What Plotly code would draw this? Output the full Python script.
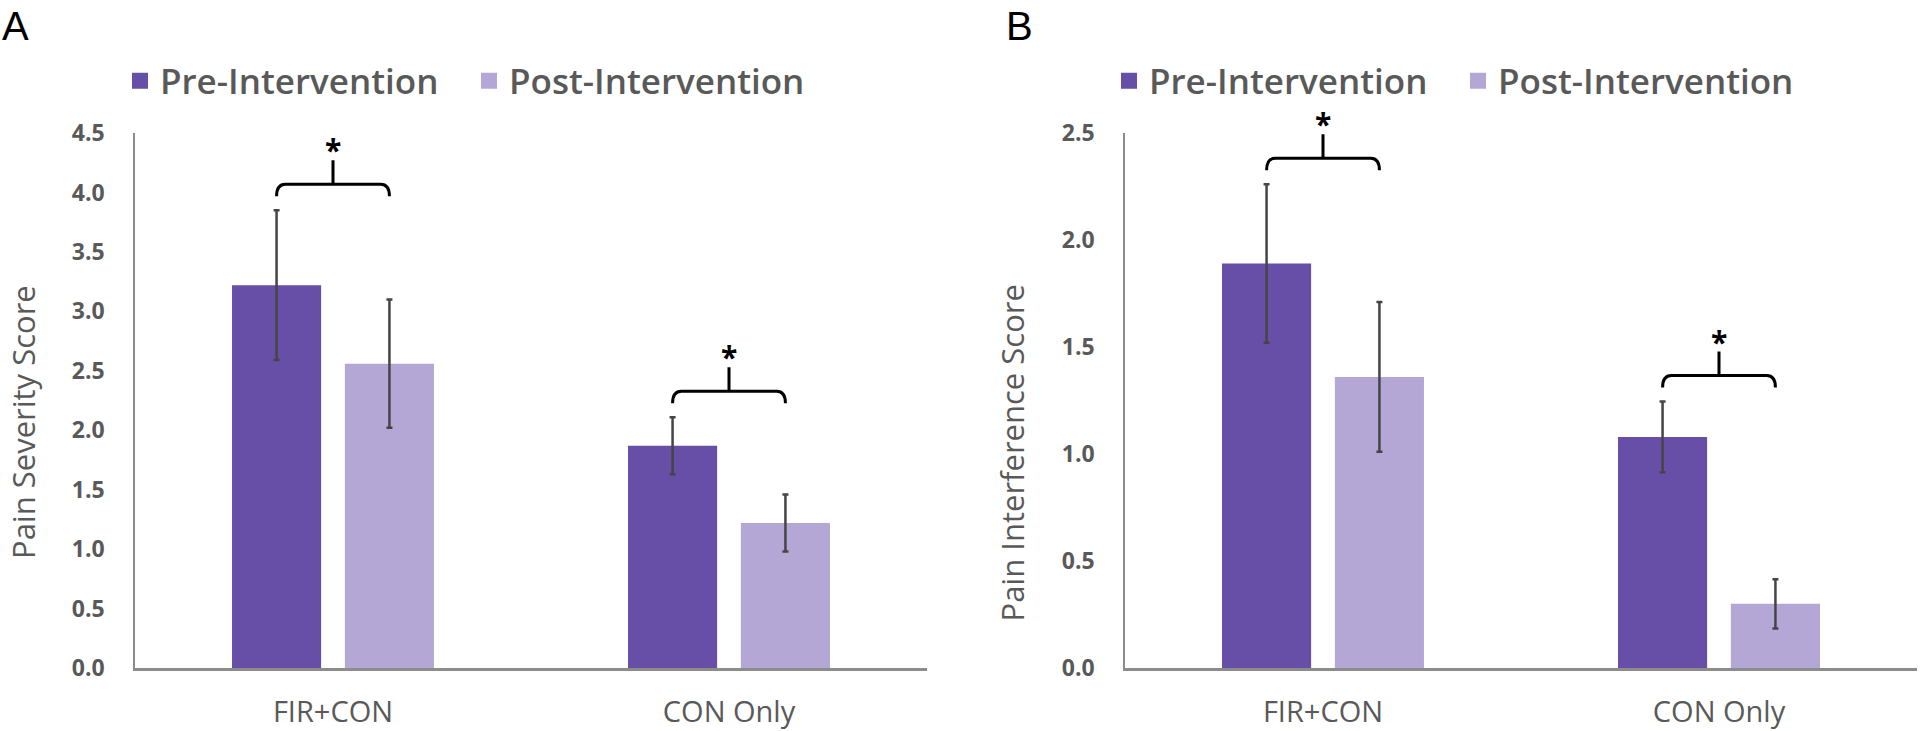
import plotly.graph_objects as go

# data
groups = ["FIR+CON", "CON Only"]
series = ["Pre-Intervention", "Post-Intervention"]
colors = ["#674ea7", "#b4a7d6"]

severity_pre = [3.22, 1.87]
severity_post = [2.56, 1.22]
severity_pre_err = [0.63, 0.24]
severity_post_err = [0.54, 0.24]

interference_pre = [1.89, 1.08]
interference_post = [1.36, 0.30]
interference_pre_err = [0.37, 0.165]
interference_post_err = [0.35, 0.115]

severity_ticks = [0.0, 0.5, 1.0, 1.5, 2.0, 2.5, 3.0, 3.5, 4.0, 4.5]
interference_ticks = [0.0, 0.5, 1.0, 1.5, 2.0, 2.5]

W, H = 1920, 731
TXT = "#595959"
FONT = "Open Sans"

# plot areas in pixels
plot_top, plot_bot = 133, 668
x_dom = [(135, 927), (1125, 1917)]

bar_w = 0.225
bar_off = [-0.255, 0.03]

fig = go.Figure()

panels = [
    ("x", "y", "legend", [severity_pre, severity_post], [severity_pre_err, severity_post_err], 4.5),
    ("x2", "y2", "legend2", [interference_pre, interference_post], [interference_pre_err, interference_post_err], 2.5),
]

for xa, ya, lg, vals, errs, ymax in panels:
    for i in range(2):
        fig.add_trace(go.Bar(
            x=[0, 1], y=vals[i], width=bar_w, offset=bar_off[i],
            marker=dict(color=colors[i], line=dict(width=0)),
            error_y=dict(type="data", array=errs[i], color="#454545", thickness=2.5, width=3),
            xaxis=xa, yaxis=ya, showlegend=False, name=series[i],
        ))
        # legend-only swatch
        fig.add_trace(go.Scatter(
            x=[None], y=[None], mode="markers", name=series[i],
            marker=dict(symbol="square", size=16, color=colors[i]),
            xaxis=xa, yaxis=ya, legend=lg,
        ))

    # significance brackets above the error bars
    px_unit = ymax / (plot_bot - plot_top)
    for g in range(2):
        top = max(vals[0][g] + errs[0][g], vals[1][g] + errs[1][g])
        y_end = top + 14 * px_unit
        y_h = top + 26 * px_unit
        y_tick = top + 50 * px_unit
        x0 = g + bar_off[0] + bar_w / 2
        x1 = g + bar_off[1] + bar_w / 2
        r = 0.022
        path = (f"M {x0},{y_end} Q {x0},{y_h} {x0 + r},{y_h} L {x1 - r},{y_h} "
                f"Q {x1},{y_h} {x1},{y_end} M {g},{y_h} L {g},{y_tick}")
        fig.add_shape(type="path", path=path, xref=xa, yref=ya,
                      line=dict(color="black", width=3))
        fig.add_annotation(x=g, y=y_tick, xref=xa, yref=ya, text="<b>*</b>",
                           showarrow=False, yanchor="bottom", yshift=-12,
                           font=dict(size=30, color="black", family=FONT))

ydom = [(H - plot_bot) / H, (H - plot_top) / H]


def xaxis_cfg(i, anchor):
    return dict(domain=[x_dom[i][0] / W, x_dom[i][1] / W], anchor=anchor, range=[-0.5, 1.5],
                tickvals=[0, 1], ticktext=groups, showline=True, linecolor="#8c8c8c", linewidth=2.5,
                ticks="", ticklabelstandoff=16, tickfont=dict(size=29, color=TXT),
                showgrid=False, zeroline=False, automargin=False)


def yaxis_cfg(anchor, ymax, ticks):
    return dict(domain=ydom, anchor=anchor, range=[0, ymax], tickvals=ticks, tickformat=".1f",
                showline=True, linecolor="#8c8c8c", linewidth=1.5, ticks="", ticklabelstandoff=24,
                tickfont=dict(size=23, color=TXT, weight="bold"),
                showgrid=False, zeroline=False, automargin=False)


legend_font = dict(size=35, color=TXT, weight=600)
fig.update_layout(
    template="none",
    width=W, height=H, margin=dict(l=0, r=0, t=0, b=0, autoexpand=False),
    plot_bgcolor="white", paper_bgcolor="white",
    barmode="overlay",
    font=dict(family=FONT, color=TXT),
    xaxis=xaxis_cfg(0, "y"),
    xaxis2=xaxis_cfg(1, "y2"),
    yaxis=yaxis_cfg("x", 4.5, severity_ticks),
    yaxis2=yaxis_cfg("x2", 2.5, interference_ticks),
    legend=dict(orientation="h", xref="container", yref="container", x=120 / W, xanchor="left",
                y=1 - 81 / H, yanchor="middle", entrywidth=304, entrywidthmode="pixels",
                font=legend_font, bgcolor="rgba(0,0,0,0)", itemclick=False),
    legend2=dict(orientation="h", xref="container", yref="container", x=1109 / W, xanchor="left",
                 y=1 - 81 / H, yanchor="middle", entrywidth=304, entrywidthmode="pixels",
                 font=legend_font, bgcolor="rgba(0,0,0,0)", itemclick=False),
)

# axis titles and panel letters
fig.add_annotation(text="Pain Severity Score", x=23 / W, y=1 - 283 / H, xref="paper", yref="paper",
                   textangle=-90, xanchor="center", yanchor="top", showarrow=False,
                   font=dict(size=31, color=TXT))
fig.add_annotation(text="Pain Interference Score", x=1011 / W, y=1 - 283 / H, xref="paper", yref="paper",
                   textangle=-90, xanchor="center", yanchor="top", showarrow=False,
                   font=dict(size=31, color=TXT))
fig.add_annotation(text="A", x=0, y=1 - 2 / H, xref="paper", yref="paper", xanchor="left", yanchor="top",
                   showarrow=False, font=dict(size=40, color="black", family="Liberation Sans"))
fig.add_annotation(text="B", x=1004 / W, y=1 - 2 / H, xref="paper", yref="paper", xanchor="left", yanchor="top",
                   showarrow=False, font=dict(size=40, color="black", family="Liberation Sans"))

fig.write_html("out.html", config={"displayModeBar": False},
               post_script="document.body.style.margin='0px';")
